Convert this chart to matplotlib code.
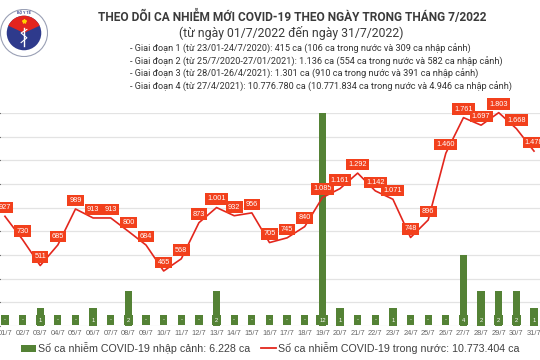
import matplotlib
matplotlib.use("Agg")
import matplotlib.pyplot as plt
from matplotlib.patches import Patch, Circle, Wedge
from matplotlib.lines import Line2D

plt.rcParams["font.family"] = ["Liberation Sans", "DejaVu Sans"]

# data
days = list(range(1, 32))
day_labels = [f"{d:02d}/7" for d in days]
domestic = [927, 730, 511, 685, 989, 913, 913, 800, 684, 465, 568, 873, 1001, 932, 956,
            705, 745, 840, 1085, 1161, 1292, 1142, 1071, 748, 896, 1460, 1761, 1697, 1803,
            1668, 1478]
imported = [0, 0, 1, 0, 0, 1, 0, 2, 0, 0, 0, 0, 2, 0, 0,
            0, 0, 0, 12, 1, 0, 0, 1, 0, 0, 0, 4, 2, 2, 2, 1]

title = "THEO DÕI CA NHIỄM MỚI COVID-19 THEO NGÀY TRONG THÁNG 7/2022"
subtitle = "(từ ngày 01/7/2022 đến ngày 31/7/2022)"
notes = [
    "- Giai đoạn 1 (từ 23/01-24/7/2020): 415 ca (106 ca trong nước và 309 ca nhập cảnh)",
    "- Giai đoạn 2 (từ 25/7/2020-27/01/2021): 1.136 ca (554 ca trong nước và 582 ca nhập cảnh)",
    "- Giai đoạn 3 (từ 28/01-26/4/2021): 1.301 ca (910 ca trong nước và 391 ca nhập cảnh)",
    "- Giai đoạn 4 (từ 27/4/2021): 10.776.780 ca (10.771.834 ca trong nước và 4.946 ca nhập cảnh)",
]
legend_labels = ["Số ca nhiễm COVID-19 nhập cảnh: 6.228 ca",
                 "Số ca nhiễm COVID-19 trong nước: 10.773.404 ca"]

GREEN = "#548235"
RED = "#e3261d"
LABEL_RED = "#f2401c"
HEAD_FONT = ["Roboto", "DejaVu Sans"]


def vn_num(v):
    return f"{v:,}".replace(",", ".")


fig = plt.figure(figsize=(5.4, 3.6), dpi=100)
ax = fig.add_axes([0, 34 / 360, 1, 213 / 360])
ax.set_xlim(0.72, 31.34)
ax.set_ylim(0, 1800)
ax.set_yticks(range(0, 1801, 200))
ax.grid(axis="y", color="#e3e3e3", lw=0.9)
ax.set_axisbelow(True)
for s in ax.spines.values():
    s.set_visible(False)
ax.tick_params(axis="y", left=False, labelleft=False)
ax.set_xticks(days)
ax.set_xticklabels(day_labels, fontsize=5.4, color="#666666")
ax.tick_params(axis="x", length=0, pad=3)

# bars for imported cases on twin axis
axb = ax.twinx()
axb.set_ylim(0, 12)
axb.axis("off")
axb.bar(days, imported, width=0.42, color=GREEN, zorder=1)
for d, v in zip(days, imported):
    axb.annotate("-" if v == 0 else str(v), (d, 0), xytext=(0, 4.3), textcoords="offset points",
                 ha="center", va="center", fontsize=4.2, color="white",
                 bbox=dict(boxstyle="square,pad=0.45", fc=GREEN, ec="none"))

# line for domestic cases
axl = ax.twinx()
axl.set_ylim(0, 1800)
axl.axis("off")
axl.plot(days, domestic, color=RED, lw=1.2, zorder=3, clip_on=False)
for d, v in zip(days, domestic):
    axl.annotate(vn_num(v), (d, v), xytext=(0, 6.2), textcoords="offset points",
                 ha="center", va="center", fontsize=5.3, color="white", zorder=4,
                 bbox=dict(boxstyle="square,pad=0.3", fc=LABEL_RED, ec="none"))

# header
fig.text(0.542, 1 - 17 / 360, title, ha="center", va="center", fontsize=8.6,
         fontweight="bold", color="#3b3b3b", family=HEAD_FONT)
fig.text(0.54, 1 - 33 / 360, subtitle, ha="center", va="center", fontsize=8.8,
         color="#3b3b3b", family=HEAD_FONT)
for i, line in enumerate(notes):
    fig.text(130 / 540, 1 - (49 + i * 12.7) / 360, line, ha="left", va="center",
             fontsize=6.6, color="#333333", family=HEAD_FONT)

# logo
lg = fig.add_axes([0, 1 - 58 / 360, 48 / 540, 50 / 360])
lg.set_xlim(-1, 1)
lg.set_ylim(-1, 1)
lg.set_aspect("equal")
lg.axis("off")
lg.add_patch(Circle((0, 0), 0.98, fc="white", ec="#9aa0b5", lw=0.8))
lg.add_patch(Circle((0, 0), 0.72, fc="#2e3a8c", ec="none"))
lg.add_patch(Wedge((0, 0), 0.72, 25, 155, fc="#e3241f", ec="none"))
lg.plot([0, 0], [-0.55, 0.2], color="white", lw=1.0)
lg.plot([-0.12, 0.12, -0.12, 0.12], [-0.4, -0.2, 0.0, 0.15], color="white", lw=0.8)
lg.plot([0], [0.5], marker="*", color="#ffd200", ms=3)
lg.text(0, 0.84, "BỘ Y TẾ", ha="center", va="center", fontsize=2.5, color="#2e3a8c",
        fontweight="bold")

# legend
handles = [Patch(fc=GREEN, ec="none"), Line2D([0], [0], color=RED, lw=1.3)]
fig.legend(handles, legend_labels, loc="center", bbox_to_anchor=(0.5, 12 / 360), ncol=2,
           frameon=False, fontsize=7.7, handlelength=1.4, handletextpad=0.2,
           columnspacing=1.0, labelcolor="#404040")

fig.savefig("out.png", dpi=100)
